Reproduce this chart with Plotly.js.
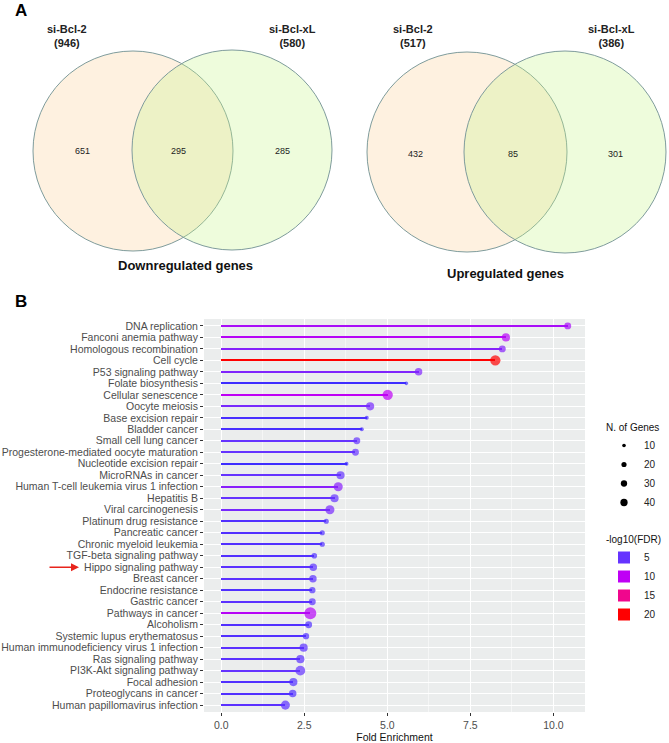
<!DOCTYPE html>
<html><head><meta charset="utf-8">
<script src="https://cdn.plot.ly/plotly-3.0.1.min.js"></script>
<style>html,body{margin:0;padding:0;background:#fff}#chart{width:669px;height:743px}</style>
</head><body><div id="chart"></div>
<script>
// ---------- Panel B data (KEGG enrichment) ----------
const pathways = [
  'DNA replication','Fanconi anemia pathway','Homologous recombination','Cell cycle',
  'P53 signaling pathway','Folate biosynthesis','Cellular senescence','Oocyte meiosis',
  'Base excision repair','Bladder cancer','Small cell lung cancer',
  'Progesterone-mediated oocyte maturation','Nucleotide excision repair','MicroRNAs in cancer',
  'Human T-cell leukemia virus 1 infection','Hepatitis B','Viral carcinogenesis',
  'Platinum drug resistance','Pancreatic cancer','Chronic myeloid leukemia',
  'TGF-beta signaling pathway','Hippo signaling pathway','Breast cancer','Endocrine resistance',
  'Gastric cancer','Pathways in cancer','Alcoholism','Systemic lupus erythematosus',
  'Human immunodeficiency virus 1 infection','Ras signaling pathway','PI3K-Akt signaling pathway',
  'Focal adhesion','Proteoglycans in cancer','Human papillomavirus infection'
];
const foldEnrichment = [10.43,8.57,8.46,8.25,5.94,5.57,5.01,4.48,4.38,4.23,4.08,4.04,3.77,3.59,
  3.52,3.41,3.27,3.16,3.04,3.04,2.80,2.77,2.76,2.74,2.74,2.68,2.63,2.55,2.48,2.38,2.38,2.17,2.15,1.93];
const nGenes = [18,25,18,40,21,5,40,25,6,6,18,18,6,25,31,25,31,10,10,10,12,21,21,15,18,54,18,15,25,25,36,25,21,31];
const log10FDR = [8.7,9.5,6.8,20.5,6.5,3,10,6,3.5,3.5,5,5,3,5,7,5,6,4,4,4,4,4.5,4.5,4,4.5,9.5,4,4,4.5,4.5,5,4,4,4.5];
const sizeBreaks = [10,20,30,40];
const colorBreaks = [5,10,15,20];

// ---------- Panel A data (Venn counts) ----------
const vennSets = ['si-Bcl-2','si-Bcl-xL'];
const downTotals = [946,580];
const downCounts = [651,295,285];   // only Bcl-2, both, only Bcl-xL
const upTotals = [517,386];
const upCounts = [432,85,301];
const vennTitles = ['Downregulated genes','Upregulated genes'];

// ---------- helpers ----------
const W = 669, H = 743;
const px = x => x / W;
const py = y => 1 - y / H;
const FONT = 'Liberation Sans, Arial, Helvetica, sans-serif';
const colorscale = [[0,'#2A2AFF'],[0.16,'#6633FF'],[0.42,'#BF00F5'],[0.68,'#F0068F'],[0.95,'#FF0000'],[1,'#FF0000']];
const CMIN = 2, CMAX = 21, SIZEREF = 0.75;

const shapes = [];
const annotations = [];

function venn(geom, totals, counts, title) {
  const fills = ['rgba(250,200,130,0.25)','rgba(200,245,140,0.30)'];
  geom.circles.forEach((c, i) => {
    shapes.push({type:'circle', xref:'paper', yref:'paper', layer:'above',
      x0:px(c.cx-c.r), x1:px(c.cx+c.r), y0:py(c.cy+c.r), y1:py(c.cy-c.r),
      fillcolor:fills[i], line:{color:'#7f9c9c', width:1}});
  });
  geom.labels.forEach((p, i) => {
    annotations.push({xref:'paper', yref:'paper', x:px(p.x), y:py(p.y), showarrow:false,
      xanchor:'center', yanchor:'middle', align:'center',
      text:'<b>' + vennSets[i] + '<br>(' + totals[i] + ')</b>',
      font:{family:FONT, size:11, color:'#222'}});
  });
  geom.counts.forEach((p, i) => {
    annotations.push({xref:'paper', yref:'paper', x:px(p.x), y:py(p.y), showarrow:false,
      xanchor:'center', yanchor:'middle', text:String(counts[i]),
      font:{family:FONT, size:9, color:'#222'}});
  });
  annotations.push({xref:'paper', yref:'paper', x:px(geom.title.x), y:py(geom.title.y), showarrow:false,
    xanchor:'center', yanchor:'middle', text:'<b>' + title + '</b>',
    font:{family:FONT, size:13, color:'#111'}});
}

venn({circles:[{cx:133,cy:151,r:100},{cx:232,cy:150,r:100}],
      labels:[{x:67,y:36},{x:292,y:36}],
      counts:[{x:82,y:151},{x:178,y:151},{x:282,y:151}],
      title:{x:185,y:265}}, downTotals, downCounts, vennTitles[0]);
venn({circles:[{cx:467,cy:152,r:100},{cx:565,cy:152,r:101}],
      labels:[{x:413,y:36},{x:611,y:36}],
      counts:[{x:416,y:154},{x:513,y:154},{x:615,y:154}],
      title:{x:505,y:273}}, upTotals, upCounts, vennTitles[1]);

annotations.push({xref:'paper', yref:'paper', x:px(21), y:py(10), showarrow:false, xanchor:'center', yanchor:'middle',
  text:'<b>A</b>', font:{family:FONT, size:17, color:'#000'}});
annotations.push({xref:'paper', yref:'paper', x:px(21), y:py(302), showarrow:false, xanchor:'center', yanchor:'middle',
  text:'<b>B</b>', font:{family:FONT, size:17, color:'#000'}});

annotations.push({xref:'paper', yref:'y', x:px(79), y:'Hippo signaling pathway', ax:-31, ay:0,
  showarrow:true, arrowhead:2, arrowsize:1, arrowwidth:1.6, arrowcolor:'#E8241C', text:''});

// ---------- traces ----------
const traces = [];
traces.push({type:'bar', orientation:'h', x:foldEnrichment, y:pathways, width:0.18,
  marker:{color:log10FDR, colorscale:colorscale, cmin:CMIN, cmax:CMAX, line:{width:0}},
  showlegend:false, hoverinfo:'skip'});
traces.push({type:'scatter', mode:'markers', x:foldEnrichment, y:pathways,
  marker:{size:nGenes, sizemode:'area', sizeref:SIZEREF, sizemin:1,
    color:log10FDR, colorscale:colorscale, cmin:CMIN, cmax:CMAX, line:{width:0}},
  showlegend:false});
sizeBreaks.forEach(b => traces.push({type:'scatter', mode:'markers', x:[null], y:[null],
  name:String(b), legend:'legend', showlegend:true,
  marker:{size:Math.sqrt(b/SIZEREF), color:'#000', line:{width:0}}}));
colorBreaks.forEach(b => traces.push({type:'scatter', mode:'markers', x:[null], y:[null],
  name:String(b), legend:'legend2', showlegend:true,
  marker:{size:12, symbol:'square', color:[b], colorscale:colorscale, cmin:CMIN, cmax:CMAX, line:{width:0}}}));

const layout = {
  width:W, height:H, margin:{l:0,r:0,t:0,b:0},
  paper_bgcolor:'#fff', plot_bgcolor:'#EBEDED',
  font:{family:FONT, size:10, color:'#4d4d4d'},
  showlegend:true,
  xaxis:{domain:[px(204), px(585)], range:[-0.52,10.95], tick0:0, dtick:2.5, tickformat:'.1f',
    ticks:'outside', ticklen:3, tickcolor:'#333', tickwidth:1,
    tickfont:{family:FONT, size:10.5, color:'#4d4d4d'},
    showgrid:true, gridcolor:'#fff', gridwidth:1.1, zeroline:false, showline:false,
    minor:{dtick:1.25, tick0:0, showgrid:true, gridcolor:'#fff', gridwidth:0.5, ticks:''},
    title:{text:'Fold Enrichment', font:{family:FONT, size:10.5, color:'#111'}, standoff:2},
    automargin:false, fixedrange:true},
  yaxis:{domain:[py(712), py(319)], type:'category', categoryorder:'array', categoryarray:pathways,
    tickmode:'array', tickvals:pathways, ticktext:pathways,
    range:[pathways.length-0.4, -0.6], ticks:'outside', ticklen:3, tickcolor:'#333', tickwidth:1,
    tickfont:{family:FONT, size:10.5, color:'#4d4d4d'},
    showgrid:true, gridcolor:'#fff', gridwidth:1.1, zeroline:false, showline:false,
    automargin:false, fixedrange:true},
  legend:{x:px(604), xanchor:'left', y:py(418), yanchor:'top', bgcolor:'rgba(0,0,0,0)',
    title:{text:'N. of Genes', font:{family:FONT, size:10, color:'#111'}},
    font:{family:FONT, size:10, color:'#222'}, itemwidth:30, tracegroupgap:0},
  legend2:{x:px(604), xanchor:'left', y:py(530), yanchor:'top', bgcolor:'rgba(0,0,0,0)',
    title:{text:'-log10(FDR)', font:{family:FONT, size:10, color:'#111'}},
    font:{family:FONT, size:10, color:'#222'}, itemwidth:30, tracegroupgap:0},
  bargap:0,
  shapes:shapes,
  annotations:annotations
};

Plotly.newPlot('chart', traces, layout, {displayModeBar:false, staticPlot:true});
</script>
</body></html>
